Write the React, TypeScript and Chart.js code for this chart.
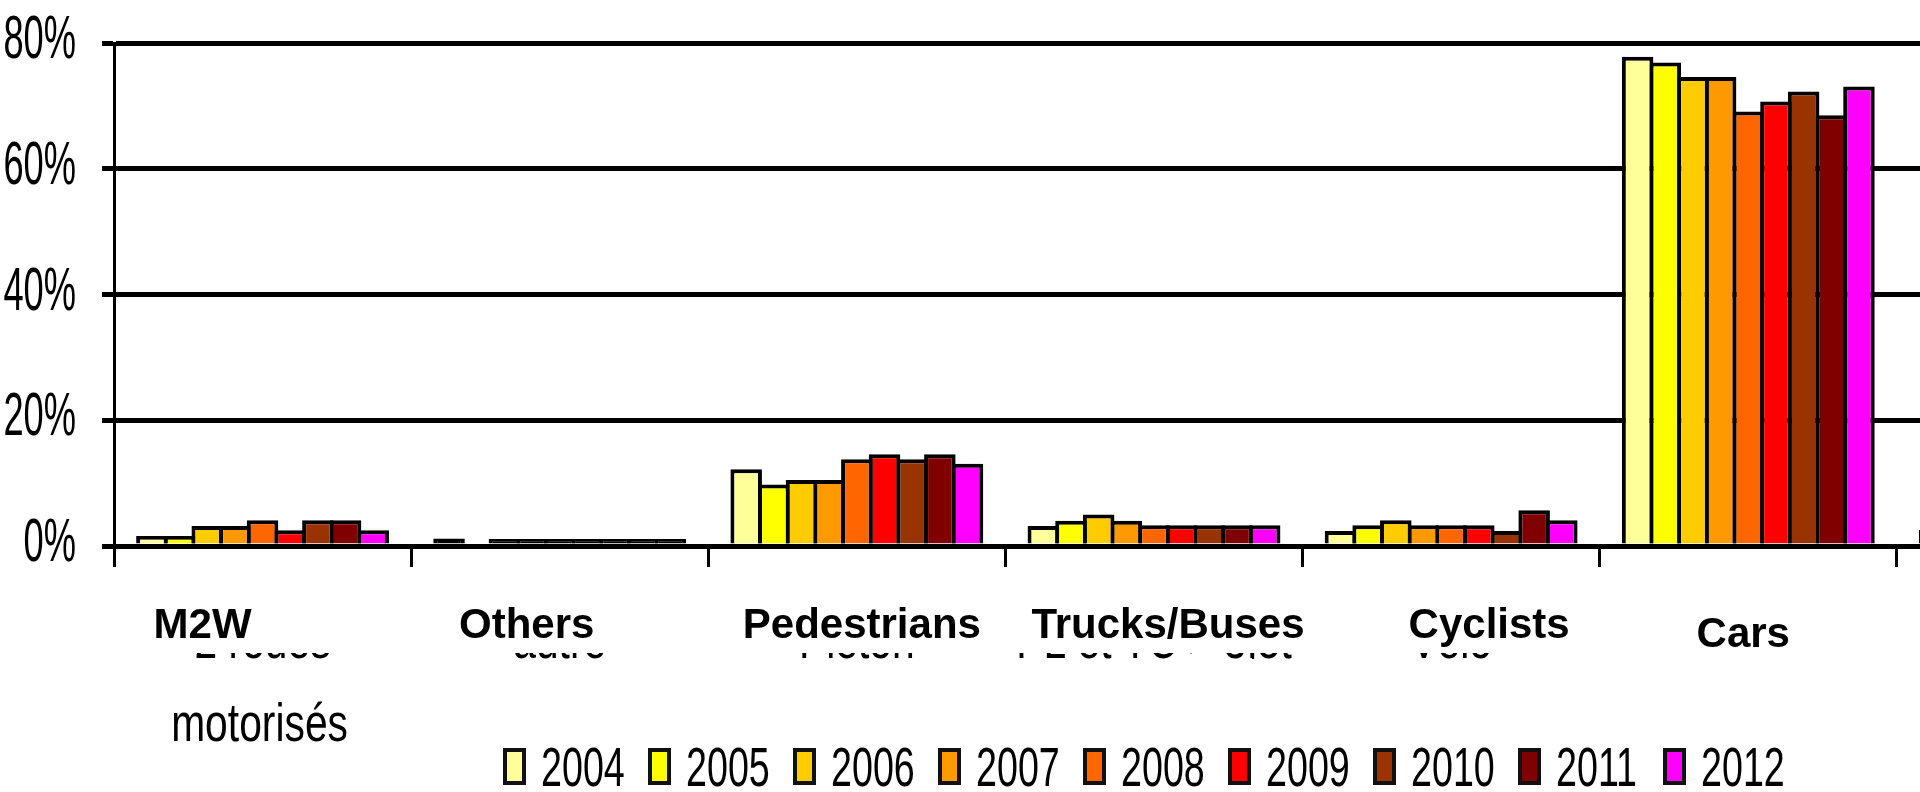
import React, { useEffect, useRef } from "react";
import { Chart, registerables } from "chart.js";

Chart.register(...registerables);

const categories = ["M2W", "Others", "Pedestrians", "Trucks/Buses", "Cyclists", "Cars", ""];
const frenchLine1 = ["2 roues", "autre", "Piéton", "PL et TC > 3,5t", "Vélo", "", ""];
const frenchLine2 = ["motorisés", "", "", "", "", "", ""];
const years = ["2004", "2005", "2006", "2007", "2008", "2009", "2010", "2011", "2012"];
const yearColors = ["#FFFF99", "#FFFF00", "#FFCC00", "#FF9900", "#FF6600", "#FF0000", "#993300", "#800000", "#FF00FF"];
const yTickLabels = ["0%", "20%", "40%", "60%", "80%"];

const v2004 = [1.6, 1.2, 12.2, 3.2, 2.4, 77.8, 2.6];
const v2005 = [1.6, 0, 9.8, 4.0, 3.3, 76.9, null];
const v2006 = [3.2, 1.1, 10.5, 5.0, 4.1, 74.6, null];
const v2007 = [3.2, 1.1, 10.5, 4.0, 3.3, 74.6, null];
const v2008 = [4.1, 1.1, 13.8, 3.3, 3.3, 69.1, null];
const v2009 = [2.5, 1.1, 14.6, 3.3, 3.3, 70.7, null];
const v2010 = [4.1, 1.1, 13.8, 3.3, 2.4, 72.3, null];
const v2011 = [4.1, 1.1, 14.6, 3.3, 5.7, 68.5, null];
const v2012 = [2.5, 1.1, 13.1, 3.3, 4.1, 73.1, null];
const seriesValues = [v2004, v2005, v2006, v2007, v2008, v2009, v2010, v2011, v2012];

const FONT = '"Liberation Sans", Arial, sans-serif';

function drawScaled(ctx: CanvasRenderingContext2D, text: string, x: number, y: number, sx: number) {
  ctx.save();
  ctx.translate(x, y);
  ctx.scale(sx, 1);
  ctx.fillText(text, 0, 0);
  ctx.restore();
}

// English overlay label offsets from category centres and baselines
const labelDx = [-60, -33, 5, 14, 38, -5, 0];
const labelBase = [638, 638, 638, 638, 638, 647, 638];

const overlayPlugin = {
  id: "overlay",
  afterDraw(chart: any) {
    const ctx: CanvasRenderingContext2D = chart.ctx;
    const xs = chart.scales.x;
    const ys = chart.scales.y;
    ctx.save();
    ctx.fillStyle = "#000";
    ctx.textBaseline = "alphabetic";

    // y tick labels
    ctx.font = `62px ${FONT}`;
    ctx.textAlign = "right";
    ys.ticks.forEach((t: any) => {
      const py = ys.getPixelForValue(t.value);
      drawScaled(ctx, String(t.label), 76, py + 15, 0.585);
    });

    // French residual first line (mostly hidden)
    ctx.save();
    ctx.beginPath();
    ctx.rect(0, 653, chart.width, 6);
    ctx.clip();
    ctx.font = `53px ${FONT}`;
    ctx.textAlign = "center";
    frenchLine1.forEach((t, i) => {
      if (!t) return;
      drawScaled(ctx, t, xs.getPixelForValue(i), 658, 0.77);
    });
    ctx.restore();

    // French second line
    ctx.font = `53px ${FONT}`;
    ctx.textAlign = "center";
    frenchLine2.forEach((t, i) => {
      if (!t) return;
      drawScaled(ctx, t, xs.getPixelForValue(i) - 3, 741, 0.77);
    });

    // English category labels
    ctx.font = `bold 42px ${FONT}`;
    ctx.textAlign = "center";
    categories.forEach((c, i) => {
      if (!c) return;
      ctx.fillText(c, xs.getPixelForValue(i) + labelDx[i], labelBase[i]);
    });

    // Legend
    ctx.font = `55px ${FONT}`;
    ctx.textAlign = "left";
    chart.data.datasets.forEach((ds: any, i: number) => {
      const bx = 503 + i * 145;
      ctx.fillStyle = yearColors[i];
      ctx.fillRect(bx, 748, 23, 37);
      ctx.strokeStyle = "#111";
      ctx.lineWidth = 4;
      ctx.strokeRect(bx + 2, 750, 19, 33);
      ctx.fillStyle = "#000";
      drawScaled(ctx, ds.label, bx + 38, 786, 0.685);
    });
    ctx.restore();
  },
};

export default function App() {
  const ref = useRef<HTMLCanvasElement | null>(null);
  useEffect(() => {
    if (!ref.current) return;
    const chart = new Chart(ref.current, {
      type: "bar",
      data: {
        labels: categories,
        datasets: years.map((y, i) => ({
          label: y,
          data: seriesValues[i],
          // very thin bars render as solid border strips, as in the source
          backgroundColor: (c: any) => (c.raw != null && c.raw < 1.5 ? "#000" : yearColors[i]),
          borderColor: "#000",
          borderWidth: 4,
          barPercentage: 1.14,
          categoryPercentage: 0.838,
        })),
      },
      options: {
        responsive: false,
        animation: false,
        devicePixelRatio: 1,
        layout: { padding: { top: 43, right: 6, left: 0, bottom: 0 } },
        plugins: { legend: { display: false }, tooltip: { enabled: false } },
        scales: {
          x: {
            offset: true,
            grid: { offset: true, drawOnChartArea: false, drawTicks: true, tickLength: 21, color: "#000", lineWidth: 3 },
            border: { display: true, color: "#000", width: 5 },
            ticks: { display: false },
            afterFit: (s: any) => {
              s.height = 246;
            },
          },
          y: {
            min: 0,
            max: 80,
            ticks: { stepSize: 20, display: false, callback: (v: any) => yTickLabels[Math.round(Number(v) / 20)] },
            grid: { color: "#000", lineWidth: 5, tickLength: 12, drawTicks: true },
            border: { display: true, color: "#000", width: 3 },
            afterFit: (s: any) => {
              s.width = 114;
            },
          },
        },
      },
      plugins: [overlayPlugin],
    } as any);
    return () => chart.destroy();
  }, []);
  return (
    <div style={{ position: "fixed", left: 0, top: 0, width: 1920, height: 792, overflow: "hidden", background: "#fff" }}>
      <canvas ref={ref} width={2200} height={792} style={{ display: "block" }} />
    </div>
  );
}
